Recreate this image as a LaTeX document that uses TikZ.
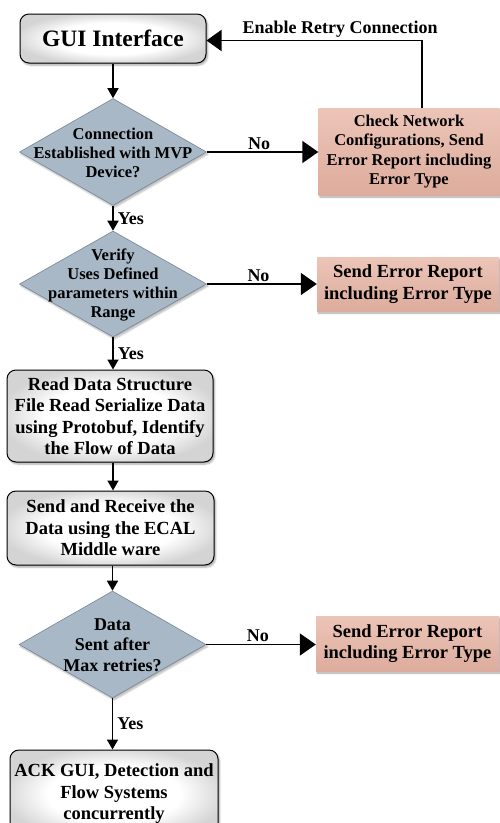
\documentclass[tikz,border=0pt]{standalone}
\usepackage{fontspec}
\setmainfont{Liberation Serif}
\usetikzlibrary{shapes.geometric,arrows.meta,shadows.blur}

\definecolor{pinkA}{RGB}{236,197,184}
\definecolor{pinkB}{RGB}{221,172,156}
\definecolor{slate}{RGB}{168,184,199}
\definecolor{slateedge}{RGB}{120,134,148}
\definecolor{boxgrey}{RGB}{212,212,212}

% white core fading to light grey towards the rim
\pgfdeclareradialshading{boxglow}{\pgfpoint{0bp}{0bp}}{%
  color(0bp)=(white); color(16bp)=(white); color(27bp)=(boxgrey); color(50bp)=(boxgrey)}

\tikzset{
  every node/.style={font=\bfseries},
  procbox/.style={rectangle, rounded corners=9pt, draw=black, line width=1pt,
    shading=boxglow, align=center, inner sep=0pt,
    blur shadow={shadow blur steps=6, shadow xshift=1.5pt, shadow yshift=-2pt, shadow opacity=35}},
  errbox/.style={rectangle, top color=pinkA, bottom color=pinkB, align=center, inner sep=0pt,
    blur shadow={shadow blur steps=6, shadow xshift=1.5pt, shadow yshift=-2pt, shadow opacity=35}},
  decision/.style={diamond, fill=slate, draw=slateedge, line width=0.6pt, inner sep=0pt,
    blur shadow={shadow blur steps=6, shadow xshift=1.5pt, shadow yshift=-2pt, shadow opacity=30}},
  flow/.style={line width=1.6pt, -{Triangle[length=10pt,width=11pt]}},
  bigflow/.style={line width=1.6pt, -{Triangle[length=16pt,width=22pt]}},
  lbl/.style={font=\bfseries\fontsize{18}{20}\selectfont, inner sep=2pt},
  yeslbl/.style={lbl, right, inner sep=4pt},
  boxtxt/.style={font=\bfseries\fontsize{18.5}{21.5}\selectfont, align=center},
  diatxt/.style={font=\bfseries\fontsize{16.5}{19.3}\selectfont, align=center},
}

\begin{document}
\begin{tikzpicture}[x=1pt, y=-1pt]
\useasboundingbox (0,0) rectangle (500,823);
\clip (0,0) rectangle (500,823);

% main column
\node[procbox, minimum width=186pt, minimum height=49pt,
      font=\bfseries\fontsize{23.5}{26}\selectfont] (gui) at (113,38.5) {GUI Interface};

\node[decision, minimum width=187pt, minimum height=107pt] (d1) at (113,152) {};
\node[diatxt] (d1t) at (113,153) {Connection\\Established with MVP\\Device?};

\node[decision, minimum width=187pt, minimum height=106pt] (d2) at (113,284) {};
\node[diatxt] (d2t) at (113,285) {Verify\\Uses Defined\\parameters within\\Range};

\node[procbox, minimum width=206pt, minimum height=92pt, boxtxt] (rd) at (110,416)
  {Read Data Structure\\File Read Serialize Data\\using Protobuf, Identify\\the Flow of Data};

\node[procbox, minimum width=207pt, minimum height=74pt, boxtxt] (sr) at (110.5,528)
  {Send and Receive the\\Data using the ECAL\\Middle ware};

\node[decision, minimum width=187pt, minimum height=107pt] (d3) at (112.5,644.5) {};
\node[diatxt, font=\bfseries\fontsize{18}{20.5}\selectfont] (d3t) at (112.5,645) {Data\\Sent after\\Max retries?};

\node[procbox, minimum width=208pt, minimum height=88pt, boxtxt] (ack) at (114,794)
  {ACK GUI, Detection and\\Flow Systems\\concurrently};

% error column
\node[errbox, minimum width=181pt, minimum height=87pt, diatxt] (e1) at (409,151.5)
  {Check Network\\Configurations, Send\\Error Report including\\Error Type};
\node[errbox, minimum width=182pt, minimum height=54pt, boxtxt] (e2) at (408,284)
  {Send Error Report\\including Error Type};
\node[errbox, minimum width=183pt, minimum height=55pt, boxtxt] (e3) at (407.5,643.5)
  {Send Error Report\\including Error Type};

% connectors
\draw[flow] (gui.south) -- (gui.south |- d1.north);
\draw[flow] (d1.south) -- node[yeslbl] {Yes} (d1.south |- d2.north);
\draw[flow] (d2.south) -- node[yeslbl] {Yes} (d2.south |- rd.north);
\draw[flow] (rd.south -| d2.south) -- (d2.south |- sr.north);
\draw[flow] (sr.south -| d3.north) -- (d3.north);
\draw[flow] (d3.south) -- node[yeslbl] {Yes} (d3.south |- ack.north);

\draw[bigflow] (d1.east) -- node[lbl, above, pos=0.47] {No} (e1.west |- d1.east);
\draw[bigflow] (d2.east) -- node[lbl, above, pos=0.47] {No} (e2.west |- d2.east);
\draw[bigflow] (d3.east) -- node[lbl, above, pos=0.47] {No} (e3.west |- d3.east);

\coordinate (retry) at ([xshift=13pt]e1.north);
\draw[line width=1.6pt, -{Triangle[length=15pt,width=21pt]}]
  (retry) |- node[lbl, above, pos=0.69] {Enable Retry Connection} ([yshift=-2pt]gui.east);
\end{tikzpicture}
\end{document}
